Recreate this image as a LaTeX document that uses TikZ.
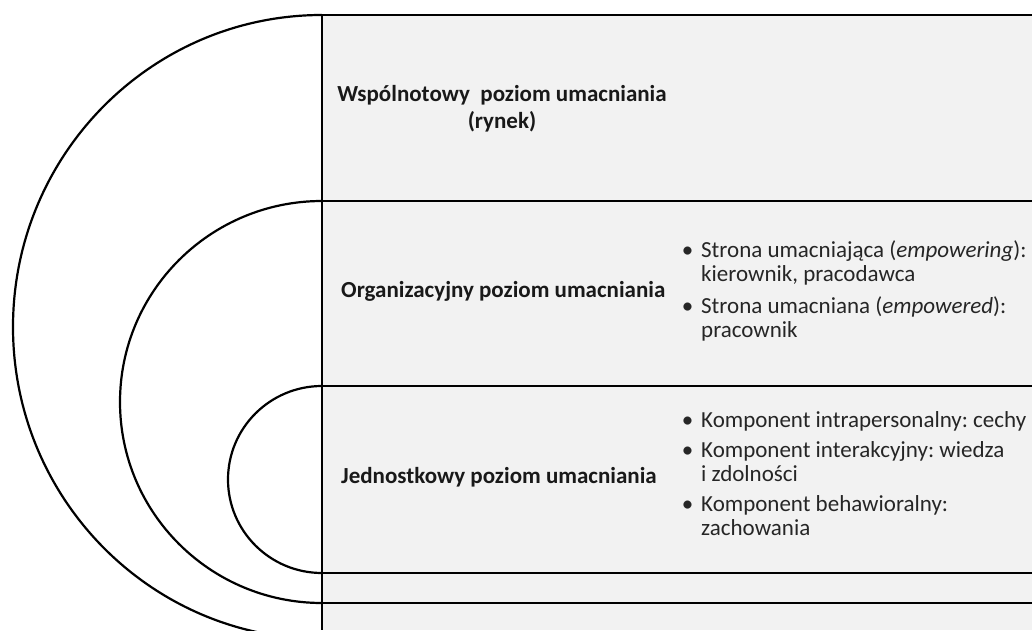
\documentclass[tikz,border=0pt]{standalone}
\usepackage{fontspec}
\setmainfont{Carlito}
\frenchspacing
\begin{document}
\begin{tikzpicture}[x=1pt,y=1pt,
  rule/.style={line width=2.2pt, black},
  lab/.style={font=\bfseries\fontsize{23}{27}\selectfont, inner sep=0pt, text=black!90},
  itm/.style={font=\fontsize{23}{24}\selectfont, anchor=mid west, inner sep=0pt, text=black!85},
]
\definecolor{bandgray}{HTML}{F2F2F2}
\useasboundingbox (0,0) rectangle (1032,630);
\clip (0,0) rectangle (1032,630);
% named points
\coordinate (R) at (1032,0);
\coordinate (top) at (322,615);
\coordinate (mid) at (322,429);
\coordinate (inn) at (322,244);
\coordinate (innb) at (322,57);
\coordinate (midb) at (322,27);
\coordinate (base) at (322,0);
% background band
\fill[bandgray] (top) rectangle (R);
% horizontal rules
\draw[rule] (top) -- (top -| R);
\draw[rule] (mid) -- (mid -| R);
\draw[rule] (inn) -- (inn -| R);
\draw[rule] (innb) -- (innb -| R);
\draw[rule] (midb) -- (midb -| R);
% arcs
\draw[rule] (top) arc[start angle=90, end angle=270, x radius=309, y radius=312];
\draw[rule] (mid) arc[start angle=90, end angle=270, x radius=202, y radius=201];
\draw[rule] (inn) arc[start angle=90, end angle=270, x radius=94, y radius=93.5];
% vertical rule
\draw[rule] (top) -- (base);
% labels
\node[lab, align=center] (wsp) at (502,521.5) {Wspólnotowy\ \ poziom umacniania\\(rynek)};
\node[lab, anchor=mid west] (org) at (341,335) {Organizacyjny poziom umacniania};
\node[lab, anchor=mid west] (jed) at (341,149) {Jednostkowy poziom umacniania};
% organizational list
\node[itm] (o1) at (701,375) {\llap{\textbullet\hspace{8pt}}Strona umacniająca (\textit{empowering}):};
\node[itm] (o2) at (701,351) {kierownik, pracodawca};
\node[itm] (o3) at (701,319) {\llap{\textbullet\hspace{8pt}}Strona umacniana (\textit{empowered}):};
\node[itm] (o4) at (701,295) {pracownik};
% individual list
\node[itm] (j1) at (701,205) {\llap{\textbullet\hspace{8pt}}Komponent intrapersonalny: cechy};
\node[itm] (j2) at (701,175) {\llap{\textbullet\hspace{8pt}}Komponent interakcyjny: wiedza};
\node[itm] (j3) at (701,151) {i zdolności};
\node[itm] (j4) at (701,121) {\llap{\textbullet\hspace{8pt}}Komponent behawioralny:};
\node[itm] (j5) at (701,97) {zachowania};
\end{tikzpicture}
\end{document}
